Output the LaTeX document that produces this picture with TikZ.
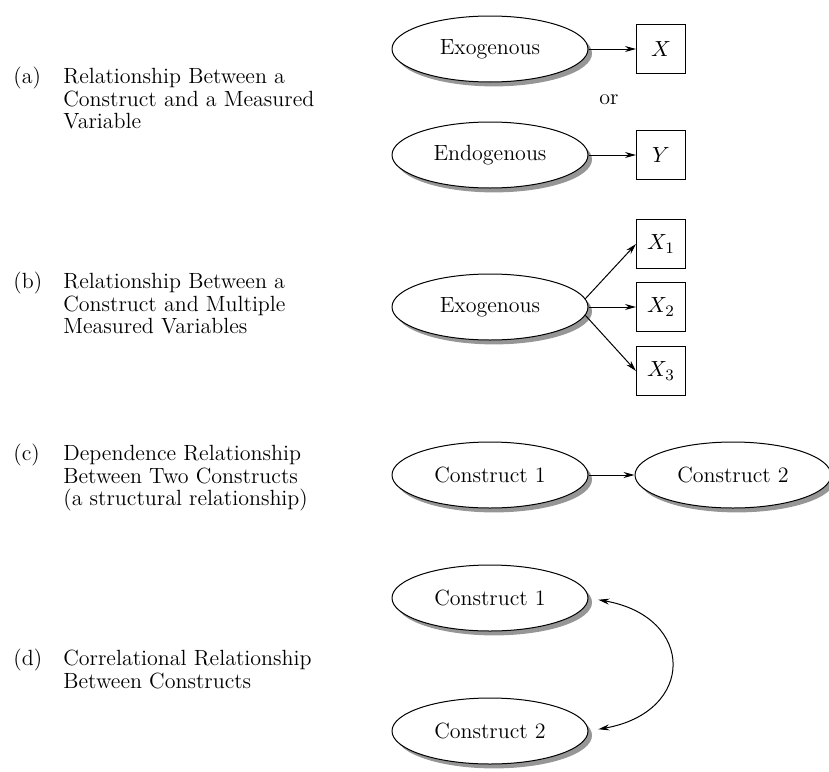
\documentclass[tikz,border=0pt]{standalone}
\usetikzlibrary{
  arrows.meta,
  positioning,
  shapes.geometric,
  shadows
}
\usepackage{amsmath}
\definecolor{shade}{RGB}{150,150,150}

\begin{document}
\begin{tikzpicture}[
  x=0.5pt, y=-0.5pt,
  every node/.style={font=\fontsize{11}{11.3}\selectfont},
  construct/.style={ellipse, draw, fill=white, line width=0.5pt, inner sep=0pt,
                    minimum width=98pt, minimum height=33pt,
                    drop shadow={shadow xshift=2pt, shadow yshift=-2.2pt, fill=shade, opacity=1}},
  measure/.style={draw, fill=white, line width=0.5pt, minimum size=24.5pt, inner sep=0pt},
  tag/.style={anchor=north west, inner sep=0pt},
  desc/.style={anchor=north west, inner sep=0pt, align=left},
  link/.style={->, line width=0.5pt},
  >={Stealth[length=5.5pt, width=3pt]}
]
\useasboundingbox (0,0) rectangle (829,771);

% Captions
\node[tag]  (taga) at (13, 67)  {(a)};
\node[desc] (txta) at (63, 68)  {Relationship Between a\\Construct and a Measured\\Variable};
\node[tag]  (tagb) at (13, 272) {(b)};
\node[desc] (txtb) at (63, 273) {Relationship Between a\\Construct and Multiple\\Measured Variables};
\node[tag]  (tagc) at (13, 444) {(c)};
\node[desc] (txtc) at (63, 445) {Dependence Relationship\\Between Two Constructs\\(a structural relationship)};
\node[tag]  (tagd) at (13, 649) {(d)};
\node[desc] (txtd) at (63, 650) {Correlational Relationship\\Between Constructs};

% (a) single indicator
\node[construct] (exa) at (490, 49)  {Exogenous};
\node[measure]   (xa)  at (661, 49)  {$X$};
\node            (or)  at (609, 100) {or};
\node[construct] (ena) at (490, 155) {Endogenous};
\node[measure]   (ya)  at (661, 155) {$Y$};

\draw[link] (exa.east) -- (xa.west);
\draw[link] (ena.east) -- (ya.west);

% (b) multiple indicators
\node[construct] (exb) at (490, 307) {Exogenous};
\foreach \i/\y in {1/244, 2/307, 3/371} {
  \node[measure] (xb\i) at (661, \y) {$X_{\i}$};
}
\draw[link] (exb.5)    -- (xb1.west);
\draw[link] (exb.east) -- (xb2.west);
\draw[link] (exb.-5)   -- (xb3.west);

% (c) structural path
\node[construct] (c1) at (490, 475) {Construct 1};
\node[construct] (c2) at (733, 475) {Construct 2};
\draw[link] (c1.east) -- (c2.west);

% (d) correlation
\node[construct] (d1) at (490, 598) {Construct 1};
\node[construct] (d2) at (490, 731) {Construct 2};
\draw[<->, line width=0.5pt, shorten <=5pt, shorten >=5pt]
  (d1.east) to[out=-10, in=10, looseness=2.1] (d2.east);

\end{tikzpicture}
\end{document}
